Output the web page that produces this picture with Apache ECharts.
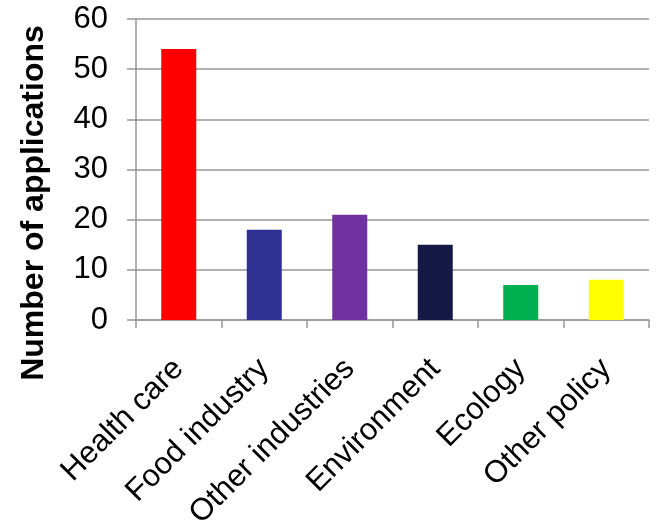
<!DOCTYPE html>
<html>
<head>
<meta charset="utf-8">
<title>Number of applications by sector</title>
<script src="https://cdn.jsdelivr.net/npm/echarts@6/dist/echarts.min.js"></script>
<style>
  html, body { margin: 0; padding: 0; background: #ffffff; }
  #chart { width: 656px; height: 525px; }
</style>
</head>
<body>
<div id="chart"></div>
<script>
// Application counts per sector
const categories = ['Health care', 'Food industry', 'Other industries', 'Environment', 'Ecology', 'Other policy'];
const applications = [54, 18, 21, 15, 7, 8];
const barColors = ['#FF0000', '#2E3192', '#7030A0', '#161846', '#00B050', '#FFFF00'];
const yTicks = { min: 0, max: 60, interval: 10 };
const yTitle = 'Number of applications';

const axisGray = '#969696';
const font = 'Liberation Sans, Arial, sans-serif';

const chart = echarts.init(document.getElementById('chart'), null, { renderer: 'canvas' });

chart.setOption({
  animation: false,
  backgroundColor: '#ffffff',
  grid: { left: 136, right: 7, top: 19, bottom: 205, containLabel: false, outerBoundsMode: 'none' },
  xAxis: {
    type: 'category',
    data: categories,
    boundaryGap: true,
    axisLine: { show: true, lineStyle: { color: axisGray, width: 1.5 } },
    axisTick: { show: true, alignWithLabel: false, length: 8, lineStyle: { color: axisGray, width: 1.5 } },
    axisLabel: {
      interval: 0,
      rotate: 45,
      margin: 44,
      color: '#000000',
      fontFamily: font,
      fontSize: 31
    }
  },
  yAxis: {
    type: 'value',
    min: yTicks.min,
    max: yTicks.max,
    interval: yTicks.interval,
    axisLine: { show: true, lineStyle: { color: axisGray, width: 1.5 } },
    axisTick: { show: true, inside: false, length: 9, lineStyle: { color: axisGray, width: 1.5 } },
    splitLine: { show: true, lineStyle: { color: axisGray, width: 1.5 } },
    axisLabel: {
      margin: 28,
      color: '#000000',
      fontFamily: font,
      fontSize: 31
    }
  },
  graphic: [{
    type: 'text',
    rotation: Math.PI / 2,
    x: 34,
    y: 203,
    style: {
      text: yTitle,
      fill: '#000000',
      font: 'bold 32px ' + font,
      textAlign: 'center',
      textVerticalAlign: 'middle'
    }
  }],
  series: [{
    type: 'bar',
    data: applications.map((v, i) => ({ value: v, itemStyle: { color: barColors[i] } })),
    barWidth: 35
  }]
});
</script>
</body>
</html>
